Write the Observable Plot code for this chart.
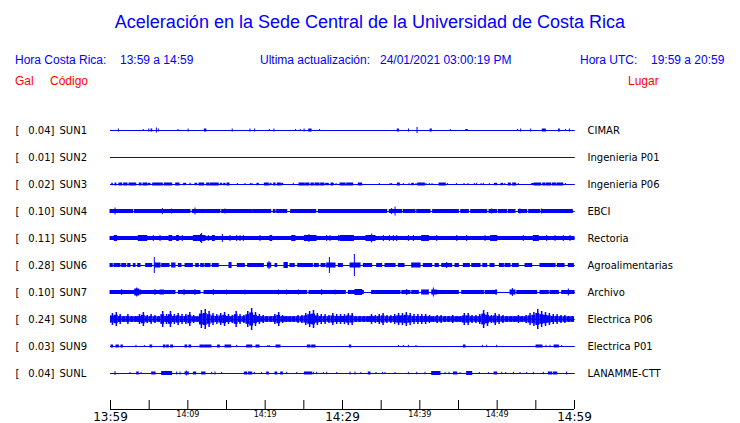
<!DOCTYPE html>
<html>
<head>
<meta charset="utf-8">
<script src="https://cdn.jsdelivr.net/npm/d3@7"></script>
<script src="https://cdn.jsdelivr.net/npm/@observablehq/plot@0.6"></script>
<style>
  html, body { margin: 0; padding: 0; background: #fff; }
  #wrap { position: relative; width: 740px; height: 423px; overflow: hidden; }
  #head { position: relative; width: 740px; height: 100px; font-family: "Liberation Sans", Arial, sans-serif; }
  #head div { position: absolute; white-space: nowrap; }
  .title { font-size: 18px; color: #0000ff; left: 0; width: 740px; text-align: center; top: 10px; line-height: 24px; }
  .info { font-size: 12px; color: #0000ff; top: 52px; line-height: 16px; }
  .red { font-size: 12px; color: #ff0000; top: 73px; line-height: 16px; }
  #chart { position: absolute; left: 0; top: 100px; }
</style>
</head>
<body>
<div id="wrap">
  <div id="head"></div>
  <div id="chart"></div>
</div>
<script>
// ---------- texts ----------
const title = "Aceleración en la Sede Central de la Universidad de Costa Rica";
const infoTexts = [
  ["Hora Costa Rica:", 15], ["13:59 a 14:59", 120],
  ["Ultima actualización:", 260], ["24/01/2021 03:00:19 PM", 380],
  ["Hora UTC:", 580], ["19:59 a 20:59", 651]
];
const redTexts = [["Gal", 15], ["Código", 50], ["Lugar", 628]];

// ---------- stations ----------
const codes  = ["SUN1","SUN2","SUN3","SUN4","SUN5","SUN6","SUN7","SUN8","SUN9","SUNL"];
const gals   = ["0.04","0.01","0.02","0.10","0.11","0.28","0.10","0.24","0.03","0.04"];
const places = ["CIMAR","Ingenieria P01","Ingenieria P06","EBCI","Rectoria","Agroalimentarias","Archivo","Electrica P06","Electrica P01","LANAMME-CTT"];

// ---------- time axis (minutes after 13:59) ----------
const tickMinutes = [0,5,10,15,20,25,30,35,40,45,50,55,60];
const bigLabelMin = [0,30,60];
const bigLabels = ["13:59","14:29","14:59"];
const smallLabelMin = [10,20,40,50];
const smallLabels = ["14:09","14:19","14:39","14:49"];

// ---------- traces: [start minute, end minute, half amplitude] ----------
const sun1 = [[1.08,1.08,1.5],[4.3,4.3,1],[5.0,5.0,1.5],[5.3,5.4,1.5],[6.0,6.0,2.5],[6.25,6.25,1.5],[8.8,8.8,1],[10.1,10.1,1.5],[12.2,12.4,1.5],[15.8,15.8,1.5],[18.1,18.1,1.5],[18.7,18.7,1.5],[20.6,20.6,1],[21.2,21.2,1.5],[24.0,24.0,1],[24.6,24.6,1],[25.1,25.1,1.5],[25.7,26.0,1.5],[27.1,27.1,1],[37.15,37.3,1.5],[38.6,38.6,1.5],[39.7,39.7,3],[41.4,41.55,1.5],[44.0,44.0,1],[46.0,46.2,1],[52.7,52.7,1],[53.1,53.1,1.5],[54.4,54.4,1.5],[55.9,56.3,1.5],[58.0,58.1,1.5],[58.9,58.9,1],[59.4,59.4,1.5]];
const sun2 = [];
const sun3 = [[0.22,0.3,1.2],[0.65,0.75,1.5],[1.16,1.51,1.5],[1.77,2.2,1.5],[2.46,3.32,1.5],[3.79,4.01,1.5],[4.27,4.78,1.5],[4.96,5.17,1.2],[5.52,6.77,1.5],[7.03,7.97,1.5],[8.49,8.92,1.5],[9.52,9.78,1.2],[10.34,10.38,1.2],[10.99,11.21,1.2],[11.51,12.11,1.5],[12.5,12.8,1.5],[12.97,14.0,1.5],[14.27,14.44,1.2],[14.7,14.87,1.2],[15.13,15.39,1.5],[16.47,16.47,1],[17.46,17.46,1],[18.15,18.15,1],[18.36,18.36,1.2],[19.0,19.18,1.2],[19.96,20.47,1.5],[20.69,20.82,1.2],[21.16,21.34,1.5],[21.64,22.03,1.5],[22.2,22.33,1.2],[23.7,23.7,1.2],[24.44,25.13,1.5],[25.3,25.73,1.5],[25.99,26.29,1.5],[26.51,27.03,1.5],[27.24,27.67,1.5],[27.89,28.23,1.2],[28.58,28.79,1.5],[28.88,28.88,1],[29.23,29.23,1],[29.74,30.4,1.5],[30.6,31.38,1.5],[32.11,32.54,1.5],[34.83,34.83,1],[36.21,36.21,1],[36.42,36.42,1],[37.16,37.41,1.5],[37.93,37.93,1],[38.67,38.67,1.2],[39.01,39.23,1.2],[39.57,39.57,1],[39.79,40.26,1.5],[40.39,40.65,1.5],[40.86,40.86,1],[41.29,41.29,1],[41.64,41.64,1],[42.55,43.36,1.5],[43.62,43.62,1],[44.79,44.79,1],[45.78,45.78,1],[46.29,46.29,1],[47.11,47.11,1],[47.41,47.41,1.2],[47.98,47.98,1],[48.28,48.28,1.2],[49.05,49.05,1],[49.7,50.0,1.2],[50.56,50.78,1.2],[51.04,51.04,1],[51.51,51.77,1.5],[52.07,52.46,1.5],[52.8,52.8,1],[54.53,54.74,1],[54.83,55.69,1.5],[55.95,56.21,1.5],[56.38,56.98,1.5],[57.2,57.63,1.5],[57.81,58.54,1.5],[58.88,58.88,1]];
const sun4 = [[0,2.93,2],[3.15,6.68,2],[6.9,10.34,2],[10.64,12.28,2],[12.37,14.22,2],[14.44,18.32,2],[18.45,20.78,2],[21.12,21.34,2],[21.55,22.85,2],[23.36,26.6,2],[26.94,30.39,2],[29.74,35.77,2],[36.12,37.72,2],[37.93,39.44,2],[39.66,41.38,2],[41.72,45.05,2],[45.35,46.34,2],[46.64,48.71,2],[49.01,50.0,2],[50.22,51.3,2],[51.51,52.37,2],[52.8,53.88,2],[54.14,55.6,2],[55.82,59.79,2],[0.65,0.65,3.5],[6.77,6.77,3],[7.97,7.97,2.5],[10.99,10.99,3.5],[14.87,14.87,2.5],[36.42,36.42,3],[36.86,36.86,4.5],[49.35,49.35,2.5],[53.0,53.0,2.5],[55.82,55.82,2.5]];
const sun5 = [[0,60,2],[0.56,0.86,3],[3.66,4.74,3],[5.6,5.6,3],[6.47,6.47,3],[7.63,7.97,3],[8.62,8.84,3],[9.35,9.35,3],[10.78,12.28,3],[11.85,11.85,5],[11.7,11.7,4],[12.71,12.71,3],[13.23,13.49,3],[14.53,14.53,4],[15.52,15.52,3],[16.38,16.38,3],[16.81,16.81,3],[17.24,17.24,3],[19.4,19.4,3],[20.69,20.91,3],[23.49,23.92,3],[25.13,26.64,3],[25.73,25.73,4],[28.02,28.02,3],[28.45,28.45,3],[29.53,29.53,3],[30.17,30.17,3],[29.74,31.47,3],[33.1,34.27,3],[33.83,33.83,4.5],[35.35,35.35,3],[36.12,36.12,3],[36.64,36.64,3],[37.07,37.07,3],[38.58,38.58,3],[39.23,39.23,3],[40.3,41.17,3],[42.24,42.24,3],[44.83,44.83,3],[46.12,46.12,3],[48.5,48.5,3],[49.22,50.0,3],[53.45,53.45,3],[54.74,55.39,3],[56.47,56.47,3],[57.55,57.55,3],[58.62,58.62,3],[59.49,59.49,3]];
const sun6 = [[0,0.3,2],[0.52,1.29,2],[1.51,2.03,2],[2.29,2.59,2],[3.02,3.23,2],[3.58,3.88,2],[4.61,5.39,2],[5.73,5.73,8],[5.82,6.47,2.5],[6.68,7.63,2],[7.97,8.4,2.5],[8.84,9.18,2],[9.7,10.65,2],[11.08,11.42,2],[11.72,12.07,2],[12.28,12.93,2],[13.23,14.0,2],[15.39,15.65,3],[16.47,17.37,2],[17.8,19.83,2],[20.35,20.78,2.5],[20.56,20.56,4],[21.34,21.55,2],[22.5,22.93,3],[23.27,23.83,2],[24.27,26.17,2],[26.42,26.94,2],[27.29,27.8,2],[28.02,29.1,2.5],[28.37,28.37,8],[29.53,30.05,2],[31.04,32.33,2.5],[31.6,31.6,11],[32.76,33.83,2],[34.48,35.13,2],[35.56,36.86,2],[37.29,38.02,2],[39.01,40.09,2.5],[40.52,41.6,2],[42.03,42.46,2],[42.89,44.18,2],[43.54,43.54,3],[44.61,45.05,2],[45.69,46.47,2],[46.77,47.85,2],[48.2,48.71,2],[49.14,49.66,2],[50.35,50.87,2],[51.08,51.73,2],[52.03,52.8,2],[53.67,54.53,2],[55.6,57.55,2],[57.85,58.71,2],[59.27,59.92,2]];
const sun7 = [[0,8.4,2],[8.84,11.64,2],[12.16,25.43,2],[25.73,30.4,2],[1.51,1.51,3],[3.2,3.7,3.5],[3.45,3.45,4.5],[3.88,3.88,3],[5.82,5.82,3],[6.47,6.9,2.5],[9.57,9.57,3],[10.99,10.99,3],[13.36,13.36,3],[15.09,15.09,2.5],[17.46,17.46,2.5],[21.77,21.77,2.5],[22.85,22.85,2.5],[24.35,24.35,2.5],[27.37,27.37,3],[29.1,29.1,2.5],[29.74,30.39,2],[30.82,32.76,2],[31.68,32.54,3],[33.83,37.5,2],[37.72,38.79,2],[38.36,38.36,3],[39.01,39.87,2],[40.3,41.17,2.5],[41.6,42.24,2.5],[41.81,41.81,4.5],[42.24,45.05,2],[45.48,48.28,2],[48.5,50.0,2],[49.92,49.92,3],[51.73,52.37,2.5],[52.03,52.03,4],[52.59,55.17,2],[55.6,56.68,2],[56.9,57.98,2],[58.41,60.0,2],[59.27,59.27,3.5]];
// SUN8: envelope half-amplitude every half minute
const sun8Env = [6,7,5,3,5,3,3,5,7,4,5,4,3,8,5,8,5,6,5,5,7,4,2.5,9,10,8,6,5,6,7,5,4,8,5,4,8,11,7,5,4,3,3,5,7,4,3,3,3,4,4,6,8,9,6,5,5,4,6,5,5,
                 5,6,6,3,3,3,3,5,4,5,6,4,4,5,6,6,7,6,5,5,5,5,4,3,4,4,3,3,4,3,3,6,6,4,4,5,9,7,4,6,5,4,3,3,3,4,3,4,6,7,10,8,7,6,5,5,4,4,3,3];
const sun9 = [[0.13,0.34,1.5],[0.78,1.08,1.5],[1.42,1.6,1.5],[3.36,3.36,1.2],[4.44,4.44,1],[5.17,5.39,1.5],[6.9,7.11,1.5],[7.33,7.54,1.5],[7.84,8.1,1.5],[9.7,9.91,1.5],[10.21,10.43,1.5],[11.64,12.07,1.5],[12.2,13.06,1.5],[13.92,14.14,1.5],[14.87,15.6,1.5],[16.38,16.38,1.2],[17.67,18.32,1.5],[18.88,19.27,1.5],[20.39,20.39,1],[20.6,20.6,1],[21.47,21.98,1.5],[25.52,25.86,1.5],[26.08,26.51,1.5],[30.95,31.12,1.5],[37.29,37.29,1],[37.93,37.93,1],[38.58,38.58,1.2],[39.57,39.57,1],[45.69,45.91,1.5],[48.15,48.15,1.2],[48.71,48.71,1.2],[50.0,50.0,1.2],[55.09,55.86,1.5],[56.38,56.38,1.2],[56.9,56.9,1.2],[57.42,57.98,1.5],[58.41,58.41,1]];
const sunL = [[0.65,0.65,2],[2.59,2.59,1],[3.45,3.66,1.5],[4.01,4.01,1],[5.39,5.82,1.5],[6.68,7.97,2],[8.62,8.62,1.5],[9.05,9.05,1.5],[9.7,10.13,1.5],[9.87,9.87,2.5],[10.78,11.08,1.5],[11.85,12.28,1.5],[13.15,13.15,1.2],[13.58,13.58,1.5],[14.44,14.44,1],[17.37,17.67,1.5],[17.89,18.32,1.5],[18.66,18.66,1.2],[19.61,19.61,1],[20.26,20.47,1.5],[21.34,21.55,1.5],[22.07,22.29,1.5],[22.85,22.85,1.2],[24.14,24.14,1],[25.13,26.08,1.5],[26.29,26.29,1.2],[26.72,26.72,1.2],[27.59,27.59,1],[28.02,28.02,1.2],[29.31,29.31,1],[31.04,31.04,1.5],[31.68,31.68,1.5],[32.42,32.42,1],[33.4,33.62,1.5],[34.4,34.4,1],[35.26,35.26,1.2],[35.56,35.56,1],[36.86,36.86,1],[38.58,38.58,1.2],[39.66,39.66,1.2],[40.73,40.73,1.2],[41.6,42.67,2],[43.32,43.32,1.2],[43.83,43.83,1.2],[44.4,44.83,1.5],[45.26,45.26,1],[46.12,46.77,2],[47.76,47.76,1],[48.93,48.93,1],[49.66,50.0,1.5],[50.65,50.65,1.2],[51.17,51.17,1],[52.16,52.16,1.2],[53.02,53.02,1],[53.88,53.88,1],[54.74,54.74,1.2],[56.04,56.04,1.2],[56.68,57.11,1.5],[57.33,57.76,1.5],[59.05,59.05,1.5]];

// ---------- header ----------
const head = document.getElementById("head");
function addDiv(cls, text, left) {
  const d = document.createElement("div");
  d.className = cls; d.textContent = text;
  if (left !== undefined) d.style.left = left + "px";
  head.appendChild(d);
}
addDiv("title", title);
infoTexts.forEach(([t, l]) => addDiv("info", t, l));
redTexts.forEach(([t, l]) => addDiv("red", t, l));

// ---------- build tables ----------
const BLUE = "#0000ff";
const ROW = 27;            // vertical distance between traces (px units of the y scale)
const T0 = 0, T1 = 60;     // minutes
const segTraces = [sun1, sun2, sun3, sun4, sun5, sun6, sun7, null, sun9, sunL];
const rows = codes.map((c, i) => ({code: c, gal: gals[i] + "]", place: places[i], yc: i * ROW}));
const segs = [];
segTraces.forEach((tr, i) => {
  if (!tr) return;
  tr.forEach(([a, b, amp]) => segs.push({x1: a, x2: b, y1: i * ROW - amp, y2: i * ROW + amp}));
});
const i8 = codes.indexOf("SUN8");
const env8 = sun8Env.map((amp, k) => ({t0: k * 0.5, t1: k * 0.5 + 0.5, tm: k * 0.5 + 0.25, amp, yc: i8 * ROW}));

const axisY = 9 * ROW + 36;  // baseline of the time axis

const chart = Plot.plot({
  width: 740,
  height: 323,
  marginLeft: 0, marginRight: 0, marginTop: 0, marginBottom: 0,
  style: {fontFamily: "'DejaVu Sans', sans-serif", fontSize: "10px", background: "#fff", color: "#000"},
  x: {domain: [T0, T1], range: [110, 574], axis: null},
  y: {domain: [-30, 293], range: [0, 323], axis: null},
  marks: [
    // baselines
    Plot.ruleY(rows, {y: "yc", x1: () => T0, x2: () => T1 + 0.1, stroke: BLUE, strokeWidth: 1}),
    // bursts
    Plot.rect(segs, {x1: "x1", x2: "x2", y1: "y1", y2: "y2", fill: BLUE, insetLeft: -0.5, insetRight: -0.5}),
    // SUN8 envelope
    Plot.rect(env8, {x1: "t0", x2: "t1", y1: d => d.yc - Math.max(2.8, d.amp * 0.6), y2: d => d.yc + Math.max(2.8, d.amp * 0.6), fill: BLUE}),
    Plot.ruleX(env8, {x: "tm", y1: d => d.yc - d.amp, y2: d => d.yc + d.amp, stroke: BLUE, strokeWidth: 1.5}),
    // left labels
    Plot.text(rows, {x: () => T0, y: "yc", text: () => "[", dx: -95, textAnchor: "start", fill: "#000"}),
    Plot.text(rows, {x: () => T0, y: "yc", text: "gal", dx: -56, textAnchor: "end", fill: "#000"}),
    Plot.text(rows, {x: () => T0, y: "yc", text: "code", dx: -51, textAnchor: "start", fill: "#000"}),
    // right labels
    Plot.text(rows, {x: () => T1, y: "yc", text: "place", dx: 13, textAnchor: "start", fill: "#000"}),
    // time axis
    Plot.ruleY([axisY], {x1: () => T0, x2: () => T1, stroke: "#000", strokeWidth: 1}),
    Plot.ruleX(tickMinutes, {x: d => d, y1: () => axisY - 9, y2: () => axisY, stroke: "#000", strokeWidth: 1}),
    Plot.text(bigLabels, {x: (d, i) => bigLabelMin[i], y: () => axisY + 3, text: d => d, fontSize: 12, fontWeight: "normal", lineAnchor: "top", fill: "#000", style: "letter-spacing:0.6px"}),
    Plot.text(smallLabels, {x: (d, i) => smallLabelMin[i], y: () => axisY + 2, text: d => d, fontSize: 8, fontWeight: "normal", lineAnchor: "top", fill: "#000"})
  ]
});
chart.querySelectorAll("text").forEach(t => { if (t.textContent.length === 5 && t.getAttribute("font-size") === "12") t.style.letterSpacing = "0.6px"; });
document.getElementById("chart").appendChild(chart);
</script>
</body>
</html>
